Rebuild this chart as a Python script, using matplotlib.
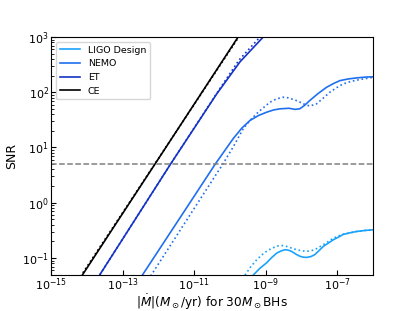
import numpy as np
import matplotlib
matplotlib.use('Agg')
import matplotlib.pyplot as plt
from matplotlib.ticker import LogLocator, NullLocator

# values, stored as log10(Mdot), log10(SNR)
ce_x = [-14.52, -9.52]
ce_y = [-1.70, 3.25]
ce_dot_x = [-14.52, -9.52]
ce_dot_y = [-1.67, 3.23]

et_x = [-13.9, -11.65, -10.37, -9.72, -9.07, -8.8]
et_y = [-1.57, 0.71, 1.97, 2.55, 3.0, 3.17]
et_dot_x = [-13.9, -11.65, -10.37, -9.75, -9.16, -8.9]
et_dot_y = [-1.57, 0.71, 1.98, 2.58, 3.0, 3.17]

nemo_x = [-12.6, -10.40, -10.15, -9.91, -9.67, -9.44, -9.2, -8.97, -8.78, -8.60, -8.35,
          -8.18, -8.05, -7.92, -7.77, -7.55, -7.30, -7.1, -6.93, -6.7, -6.46, -6.2, -6.0]
nemo_y = [-1.46, 0.71, 0.94, 1.16, 1.35, 1.49, 1.58, 1.64, 1.68, 1.70, 1.71,
          1.69, 1.70, 1.76, 1.85, 1.97, 2.09, 2.16, 2.21, 2.24, 2.26, 2.275, 2.28]
nemo_dot_x = [-12.35, -10.19, -9.9, -9.63, -9.41, -9.21, -9.03, -8.88, -8.70, -8.51, -8.38,
              -8.28, -8.1, -7.95, -7.77, -7.58, -7.4, -7.21, -7.0, -6.84, -6.6, -6.37, -6.0]
nemo_dot_y = [-1.46, 0.71, 1.02, 1.34, 1.51, 1.64, 1.74, 1.82, 1.88, 1.91, 1.90,
              1.88, 1.84, 1.79, 1.75, 1.79, 1.89, 2.00, 2.09, 2.15, 2.20, 2.23, 2.27]

ligo_x = [-9.45, -9.35, -9.17, -8.98, -8.83, -8.69, -8.56, -8.46, -8.36, -8.28, -8.16,
          -8.04, -7.95, -7.86, -7.74, -7.63, -7.50, -7.39, -7.25, -7.11, -6.96, -6.84,
          -6.65, -6.46, -6.2, -6.0]
ligo_y = [-1.40, -1.31, -1.19, -1.09, -0.99, -0.91, -0.87, -0.85, -0.86, -0.88, -0.93,
          -0.97, -0.985, -0.99, -0.975, -0.94, -0.86, -0.79, -0.73, -0.67, -0.62, -0.575,
          -0.545, -0.52, -0.50, -0.49]
ligo_dot_x = [-9.7, -9.58, -9.42, -9.25, -9.1, -8.98, -8.82, -8.65, -8.53, -8.42, -8.28,
              -8.14, -8.0, -7.86, -7.74, -7.63, -7.50, -7.39, -7.25, -7.11, -6.96, -6.84,
              -6.65, -6.46, -6.2, -6.0]
ligo_dot_y = [-1.45, -1.31, -1.16, -1.03, -0.94, -0.88, -0.82, -0.78, -0.775, -0.79, -0.82,
              -0.85, -0.87, -0.88, -0.87, -0.85, -0.80, -0.76, -0.70, -0.64, -0.60, -0.57,
              -0.545, -0.52, -0.50, -0.49]

snr_threshold = 5
labels = ['LIGO Design', 'NEMO', 'ET', 'CE']
colors = ['#1aa2fa', '#1f6ff0', '#1433c6', 'black']

def p(v):
    return 10 ** np.array(v)

fig = plt.figure(figsize=(4.15, 3.11), dpi=100)
ax = fig.add_axes([0.123, 0.117, 0.776, 0.764])

lw = 1.2
ax.plot(p(ligo_x), p(ligo_y), color=colors[0], lw=lw, label=labels[0])
ax.plot(p(ligo_dot_x), p(ligo_dot_y), color=colors[0], lw=lw, ls=':')
ax.plot(p(nemo_x), p(nemo_y), color=colors[1], lw=lw, label=labels[1])
ax.plot(p(nemo_dot_x), p(nemo_dot_y), color=colors[1], lw=lw, ls=':')
ax.plot(p(et_x), p(et_y), color=colors[2], lw=lw, label=labels[2])
ax.plot(p(et_dot_x), p(et_dot_y), color=colors[2], lw=lw, ls=':')
ax.plot(p(ce_x), p(ce_y), color=colors[3], lw=lw, label=labels[3])
ax.plot(p(ce_dot_x), p(ce_dot_y), color=colors[3], lw=lw, ls=':')
ax.axhline(snr_threshold, color='grey', ls='--', lw=1.1)

ax.set_xscale('log')
ax.set_yscale('log')
ax.set_xlim(1e-15, 1e-6)
ax.set_ylim(0.05, 1e3)
ax.set_xticks([1e-15, 1e-13, 1e-11, 1e-9, 1e-7])
ax.xaxis.set_minor_locator(NullLocator())
ax.yaxis.set_major_locator(LogLocator(base=10, numticks=10))
ax.yaxis.set_minor_locator(LogLocator(base=10, subs=np.arange(2, 10), numticks=10))
ax.tick_params(which='major', direction='in', labelsize=8, length=3.5, pad=1.5)
ax.tick_params(which='minor', direction='in', length=2)
for s in ax.spines.values():
    s.set_linewidth(0.8)

ax.set_xlabel(r'$|\dot{M}|(M_\odot/\mathrm{yr})$ for $30M_\odot$BHs', fontsize=8.7, labelpad=-0.5)
ax.set_ylabel('SNR', fontsize=9, labelpad=3)
ax.legend(loc='upper left', fontsize=6.8, handlelength=2.2, borderaxespad=0.5)

fig.savefig('out.png', dpi=100)
